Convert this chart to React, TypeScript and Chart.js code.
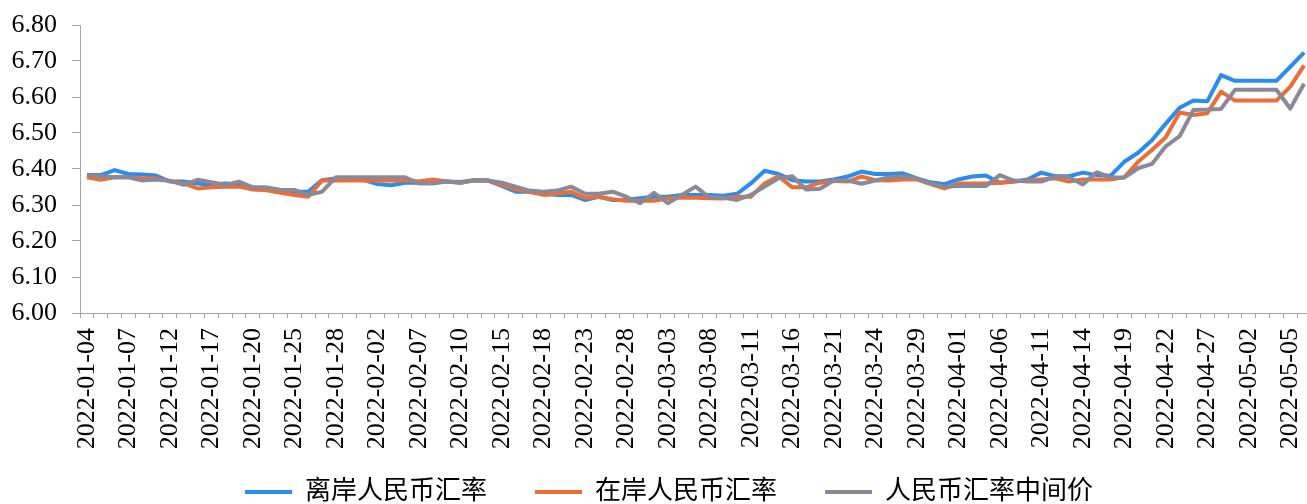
import React, { useEffect, useRef } from 'react';
import { Chart, registerables } from 'chart.js';

Chart.register(...registerables);

const dates = [
  '2022-01-04', '2022-01-05', '2022-01-06', '2022-01-07', '2022-01-10', '2022-01-11', '2022-01-12', '2022-01-13', '2022-01-14', '2022-01-17',
  '2022-01-18', '2022-01-19', '2022-01-20', '2022-01-21', '2022-01-24', '2022-01-25', '2022-01-26', '2022-01-27', '2022-01-28', '2022-01-31',
  '2022-02-01', '2022-02-02', '2022-02-03', '2022-02-04', '2022-02-07', '2022-02-08', '2022-02-09', '2022-02-10', '2022-02-11', '2022-02-14',
  '2022-02-15', '2022-02-16', '2022-02-17', '2022-02-18', '2022-02-21', '2022-02-22', '2022-02-23', '2022-02-24', '2022-02-25', '2022-02-28',
  '2022-03-01', '2022-03-02', '2022-03-03', '2022-03-04', '2022-03-07', '2022-03-08', '2022-03-09', '2022-03-10', '2022-03-11', '2022-03-14',
  '2022-03-15', '2022-03-16', '2022-03-17', '2022-03-18', '2022-03-21', '2022-03-22', '2022-03-23', '2022-03-24', '2022-03-25', '2022-03-28',
  '2022-03-29', '2022-03-30', '2022-03-31', '2022-04-01', '2022-04-04', '2022-04-05', '2022-04-06', '2022-04-07', '2022-04-08', '2022-04-11',
  '2022-04-12', '2022-04-13', '2022-04-14', '2022-04-15', '2022-04-18', '2022-04-19', '2022-04-20', '2022-04-21', '2022-04-22', '2022-04-25',
  '2022-04-26', '2022-04-27', '2022-04-28', '2022-04-29', '2022-05-02', '2022-05-03', '2022-05-04', '2022-05-05', '2022-05-06',
];

const offshore = [
  6.383, 6.383, 6.397, 6.386, 6.385, 6.382, 6.365, 6.365, 6.360, 6.356,
  6.360, 6.356, 6.346, 6.346, 6.342, 6.337, 6.337, 6.369, 6.374, 6.371,
  6.370, 6.358, 6.355, 6.362, 6.362, 6.365, 6.365, 6.364, 6.369, 6.368,
  6.353, 6.337, 6.337, 6.331, 6.328, 6.328, 6.314, 6.323, 6.314, 6.314,
  6.319, 6.323, 6.323, 6.328, 6.328, 6.328, 6.326, 6.331, 6.360, 6.395,
  6.386, 6.369, 6.365, 6.365, 6.371, 6.379, 6.393, 6.386, 6.386, 6.388,
  6.374, 6.363, 6.358, 6.371, 6.379, 6.382, 6.362, 6.365, 6.371, 6.390,
  6.380, 6.380, 6.390, 6.383, 6.381, 6.420, 6.445, 6.480, 6.526, 6.570,
  6.590, 6.588, 6.661, 6.645, 6.645, 6.645, 6.645, 6.684, 6.723,
];

const onshore = [
  6.377, 6.370, 6.377, 6.377, 6.374, 6.374, 6.367, 6.360, 6.346, 6.349,
  6.351, 6.351, 6.343, 6.341, 6.334, 6.328, 6.323, 6.368, 6.368, 6.368,
  6.368, 6.368, 6.368, 6.368, 6.365, 6.371, 6.365, 6.362, 6.369, 6.368,
  6.356, 6.344, 6.337, 6.328, 6.332, 6.337, 6.320, 6.323, 6.316, 6.312,
  6.312, 6.312, 6.319, 6.321, 6.320, 6.319, 6.318, 6.323, 6.323, 6.360,
  6.380, 6.349, 6.349, 6.362, 6.367, 6.365, 6.379, 6.369, 6.368, 6.371,
  6.371, 6.358, 6.346, 6.360, 6.360, 6.360, 6.362, 6.365, 6.368, 6.371,
  6.374, 6.365, 6.371, 6.371, 6.371, 6.377, 6.420, 6.453, 6.488, 6.557,
  6.550, 6.555, 6.615, 6.590, 6.590, 6.590, 6.590, 6.629, 6.688,
];

const centralParity = [
  6.383, 6.380, 6.377, 6.377, 6.368, 6.371, 6.367, 6.356, 6.370, 6.363,
  6.356, 6.365, 6.349, 6.349, 6.342, 6.342, 6.328, 6.337, 6.377, 6.377,
  6.377, 6.377, 6.377, 6.377, 6.360, 6.360, 6.365, 6.362, 6.369, 6.368,
  6.362, 6.351, 6.340, 6.337, 6.340, 6.351, 6.332, 6.331, 6.337, 6.323,
  6.305, 6.334, 6.305, 6.328, 6.351, 6.321, 6.321, 6.314, 6.328, 6.351,
  6.374, 6.380, 6.343, 6.345, 6.368, 6.368, 6.359, 6.368, 6.377, 6.379,
  6.374, 6.360, 6.351, 6.353, 6.353, 6.353, 6.383, 6.368, 6.365, 6.365,
  6.379, 6.377, 6.357, 6.391, 6.377, 6.376, 6.402, 6.414, 6.463, 6.491,
  6.564, 6.565, 6.567, 6.620, 6.620, 6.620, 6.620, 6.568, 6.637,
];

const seriesNames = ['离岸人民币汇率', '在岸人民币汇率', '人民币汇率中间价'];
const seriesColors = ['#2A8CEB', '#EC6E37', '#8B8897'];

const yMin = 6.0;
const yMax = 6.8;
const yStep = 0.1;
const labelEvery = 3;

const axisColor = '#A6A6A6';
const fontFamily = '"Liberation Serif", "Noto Sans CJK SC", serif';

// moves the legend box up under the rotated date labels and nudges it horizontally
const legendPlacement = {
  id: 'legendPlacement',
  afterLayout(chart: any) {
    const lg = chart.legend;
    if (!lg) return;
    const h = lg.height;
    lg.top = chart.chartArea.bottom + 118;
    lg.bottom = lg.top + h;
    lg.left = 27;
  },
};

export default function App() {
  const canvasRef = useRef<HTMLCanvasElement | null>(null);

  useEffect(() => {
    if (!canvasRef.current) return;
    const seriesData = [offshore, onshore, centralParity];
    const orders = [2, 1, 0];
    const chart = new Chart(canvasRef.current, {
      type: 'line',
      data: {
        labels: dates,
        datasets: seriesData.map((d, i) => ({
          label: seriesNames[i],
          data: d,
          borderColor: seriesColors[i],
          backgroundColor: seriesColors[i],
          borderWidth: 4,
          pointRadius: 0,
          pointHoverRadius: 0,
          tension: 0,
          fill: false,
          order: orders[i],
          borderJoinStyle: 'round' as const,
        })),
      },
      plugins: [legendPlacement],
      options: {
        responsive: false,
        animation: false,
        events: [],
        layout: { padding: { left: 0, right: 12, top: 25, bottom: 5 } },
        plugins: {
          tooltip: { enabled: false },
          legend: {
            position: 'bottom',
            labels: {
              boxWidth: 47,
              boxHeight: 4,
              padding: 48,
              color: '#000',
              font: { family: fontFamily, size: 26 },
              generateLabels: (c: any) =>
                c.data.datasets.map((ds: any, i: number) => ({
                  text: ds.label,
                  fillStyle: ds.borderColor,
                  strokeStyle: ds.borderColor,
                  lineWidth: 0,
                  hidden: false,
                  datasetIndex: i,
                  fontColor: '#000',
                })),
            },
          },
        },
        scales: {
          x: {
            type: 'category',
            offset: true,
            grid: {
              display: true,
              drawOnChartArea: false,
              drawTicks: true,
              tickLength: 5,
              color: axisColor,
              offset: true,
            },
            border: { display: true, color: axisColor, width: 1 },
            ticks: {
              autoSkip: false,
              maxRotation: 90,
              minRotation: 90,
              padding: 10,
              color: '#000',
              font: { family: fontFamily, size: 26 },
              callback: (_v: any, i: number) => (i % labelEvery === 0 ? dates[i] : ''),
            },
            afterFit: (s: any) => {
              s.height = 145;
              s.paddingLeft = 0;
              s.paddingRight = 0;
            },
          },
          y: {
            min: yMin,
            max: yMax,
            grid: {
              display: true,
              drawOnChartArea: false,
              drawTicks: true,
              tickLength: 8,
              color: axisColor,
            },
            border: { display: true, color: axisColor, width: 1 },
            ticks: {
              stepSize: yStep,
              padding: 15,
              color: '#000',
              font: { family: fontFamily, size: 26 },
              callback: (v: any) => Number(v).toFixed(2),
            },
            afterFit: (s: any) => {
              s.width = 80;
              s.paddingTop = 0;
              s.paddingBottom = 0;
            },
          },
        },
      },
    });
    return () => chart.destroy();
  }, []);

  return (
    <div
      style={{
        position: 'fixed',
        left: 0,
        top: 0,
        width: 1307,
        height: 504,
        overflow: 'hidden',
        background: '#fff',
      }}
    >
      <canvas ref={canvasRef} width={1323} height={547} style={{ display: 'block' }} />
    </div>
  );
}
